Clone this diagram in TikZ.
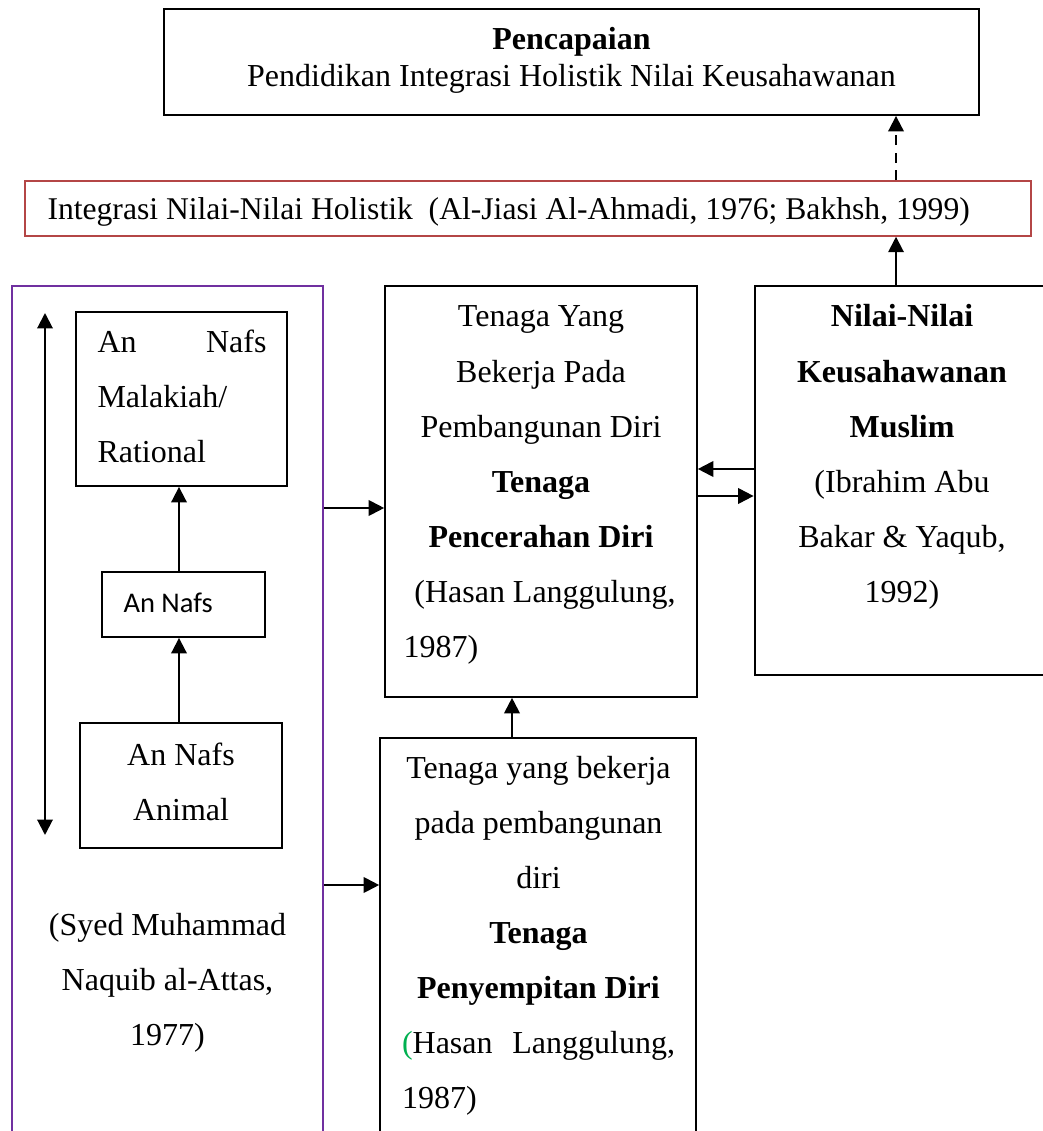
\documentclass[tikz,border=0pt]{standalone}
\usepackage{fontspec}
\setmainfont{Liberation Serif}
\newfontfamily\calibri{Carlito}
\usetikzlibrary{arrows.meta}
\definecolor{ungu}{RGB}{112,48,160}
\definecolor{merahTua}{RGB}{180,70,70}
\definecolor{hijau}{RGB}{0,176,80}

\begin{document}
\begin{tikzpicture}
[x=0.4pt,y=-0.4pt,%
  darkArrow/.style={->,>={Triangle[length=6.2pt,width=6.2pt]},line width=0.8pt},%
  dashArrow/.style={darkArrow,dash pattern=on 4pt off 3pt},%
  boxDecorate/.style={shape=rectangle,draw,line width=0.75pt,inner sep=0pt},%
  textDecorate/.style={inner sep=0pt,anchor=base,align=flush center,font=\fontsize{12.8}{22}\selectfont}]
\useasboundingbox (0,0) rectangle (1043,1131);
%% boxes
\node (pencapaian) at (571.5,62) [boxDecorate,minimum width=326pt,minimum height=42.4pt] {};
\node (integrasi) at (528,208.5) [boxDecorate,draw=merahTua,line width=0.6pt,minimum width=402.4pt,minimum height=22pt] {};
\node (attas) at (167.5,718) [boxDecorate,draw=ungu,line width=0.85pt,minimum width=124.4pt,minimum height=345.6pt] {};
\node (rational) at (181.5,399) [boxDecorate,minimum width=84.4pt,minimum height=69.6pt] {};
\node (annafs) at (183.5,604.5) [boxDecorate,minimum width=65.2pt,minimum height=26pt] {};
\node (animal) at (181,785.5) [boxDecorate,minimum width=80.8pt,minimum height=50pt] {};
\node (pencerahan) at (541,491.5) [boxDecorate,line width=0.65pt,minimum width=124.8pt,minimum height=164.4pt] {};
\node (penyempitan) at (538,944) [boxDecorate,line width=0.65pt,minimum width=126.4pt,minimum height=164.8pt] {};
\node (nilai) at (905,480.5) [boxDecorate,line width=1.1pt,minimum width=120pt,minimum height=155.6pt] {};
%% texts
\node (pencapaianTeks) at (571.5,50) [textDecorate,text width=280pt,font=\fontsize{12.8}{14.8}\selectfont] {\textbf{Pencapaian}\\Pendidikan Integrasi Holistik Nilai Keusahawanan};
\node (integrasiTeks) at (47,220) [textDecorate,anchor=base west,font=\fontsize{12.65}{22}\selectfont] {Integrasi Nilai-Nilai Holistik\ \ (Al-Jiasi Al-Ahmadi, 1976; Bakhsh, 1999)};
\node (rationalTeks) at (97,352) [textDecorate,anchor=base west,align=flush left,text width=67.6pt] {An\hfill Nafs\\Malakiah/\\Rational};
\node (annafsTeks) at (123,612) [textDecorate,anchor=base west,font=\calibri\fontsize{11.4}{14}\selectfont] {An Nafs};
\node (animalTeks) at (181,765) [textDecorate,text width=72pt] {An Nafs\\Animal};
\node (attasTeks) at (167.5,935) [textDecorate,text width=112pt] {(Syed Muhammad\\Naquib al-Attas,\\1977)};
\node (pencerahanTeks) at (541,327) [textDecorate,text width=110pt] {Tenaga Yang\\Bekerja Pada\\Pembangunan Diri\\\textbf{Tenaga}\\\textbf{Pencerahan Diri}\\\ (Hasan Langgulung,\\\makebox[\linewidth][l]{1987)}};
\node (penyempitanTeks) at (538.5,778) [textDecorate,text width=109.2pt] {Tenaga yang bekerja\\pada pembangunan\\diri\\\textbf{Tenaga}\\\textbf{Penyempitan Diri}\\\makebox[\linewidth][s]{\textcolor{hijau}{(}Hasan Langgulung,}\\\makebox[\linewidth][l]{1987)}};
\node (nilaiTeks) at (902,327) [textDecorate,text width=104pt] {\textbf{Nilai-Nilai}\\\textbf{Keusahawanan}\\\textbf{Muslim}\\(Ibrahim Abu\\Bakar \& Yaqub,\\1992)};
%% columns and rows for connectors
\coordinate (kolKiri) at (179,0);
\coordinate (kolTengah) at (512,0);
\coordinate (kolKanan) at (896,0);
\coordinate (barisA) at (0,508);
\coordinate (barisB) at (0,885);
\coordinate (barisC) at (0,469);
\coordinate (barisD) at (0,496);
\coordinate (kutubAtas) at (45,313);
\coordinate (kutubBawah) at (45,835);
%% connectors
\foreach \dari/\ke/\kol in {animal/annafs/kolKiri, annafs/rational/kolKiri, penyempitan/pencerahan/kolTengah, nilai/integrasi/kolKanan}
{
  \draw[darkArrow] (\dari.north -| \kol) -- (\ke.south -| \kol);
}
\draw[dashArrow] (integrasi.north -| kolKanan) -- (pencapaian.south -| kolKanan);
\foreach \dari/\ke/\baris in {attas/pencerahan/barisA, attas/penyempitan/barisB, pencerahan/nilai/barisD}
{
  \draw[darkArrow] (\dari.east |- \baris) -- (\ke.west |- \baris);
}
\draw[darkArrow] (nilai.west |- barisC) -- (pencerahan.east |- barisC);
\draw[darkArrow,<->] (kutubAtas) -- (kutubBawah);
\end{tikzpicture}
\end{document}
